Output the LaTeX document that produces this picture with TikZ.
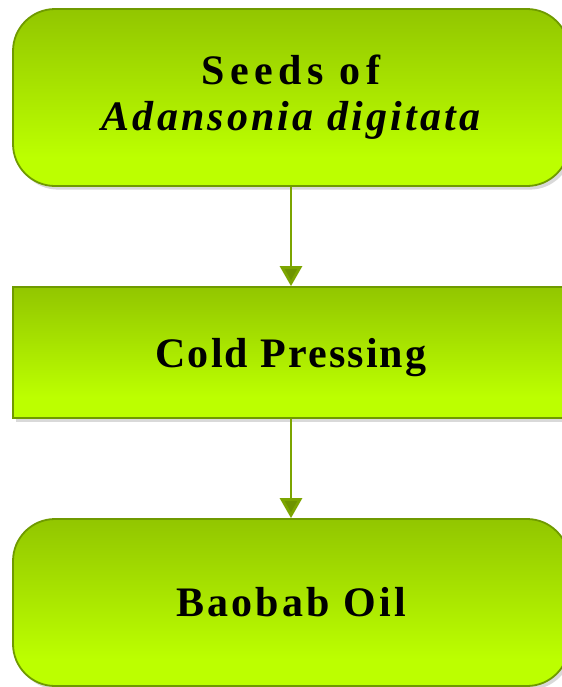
\documentclass[tikz,border=0pt]{standalone}
\usepackage{fontspec}
\newfontfamily\boxfont[LetterSpace=5]{Liberation Serif}
\newfontfamily\widefont[LetterSpace=13]{Liberation Serif}
\newfontfamily\latinfont[LetterSpace=7.5]{Liberation Serif}
\usetikzlibrary{arrows.meta,shadows}

\definecolor{boxtop}{HTML}{92C600}
\definecolor{boxbottom}{HTML}{BCFF00}
\definecolor{boxline}{HTML}{6F9A00}
\definecolor{arrowline}{HTML}{7CA500}
\definecolor{arrowtip}{HTML}{6E9400}

% 上が濃く、下の方は明るい緑で平らになる
\pgfdeclareverticalshading{boxshade}{100bp}{color(0bp)=(boxbottom); color(25bp)=(boxbottom);
  color(33bp)=(boxbottom); color(75bp)=(boxtop); color(100bp)=(boxtop)}

\tikzset{
  stepnode/.style={draw=boxline, line width=0.9pt, shading=boxshade,
    minimum width=278pt, align=center, inner sep=0pt,
    drop shadow={shadow xshift=1.5pt, shadow yshift=-1.8pt, opacity=0.3},
    font=\boxfont\bfseries\fontsize{21}{23}\selectfont},
  roundnode/.style={stepnode, rounded corners=21pt},
  flow/.style={draw=arrowline, line width=1.4pt, -{Triangle[length=10pt, width=11pt, fill=arrowtip]}}
}

\begin{document}
\begin{tikzpicture}[x=1pt, y=1pt]
    \useasboundingbox (0,0) rectangle (281,-343.5);
    % ノード
    \node[roundnode, minimum height=88.5pt] (seeds) at (145.5, -48.75)
      {{\widefont\bfseries Seeds of}\\{\latinfont\bfseries\itshape Adansonia digitata}};
    \node[stepnode, minimum height=65.5pt, text depth=0pt] (press) at (145.5, -176.25) {Cold Pressing};
    \node[roundnode, minimum height=83.5pt, font=\latinfont\bfseries\fontsize{21}{23}\selectfont] (oil) at (145.5, -301.25) {Baobab Oil};

    % エッジ
    \draw[flow] (seeds) -- (press);
    \draw[flow] (press) -- (oil);
\end{tikzpicture}
\end{document}
